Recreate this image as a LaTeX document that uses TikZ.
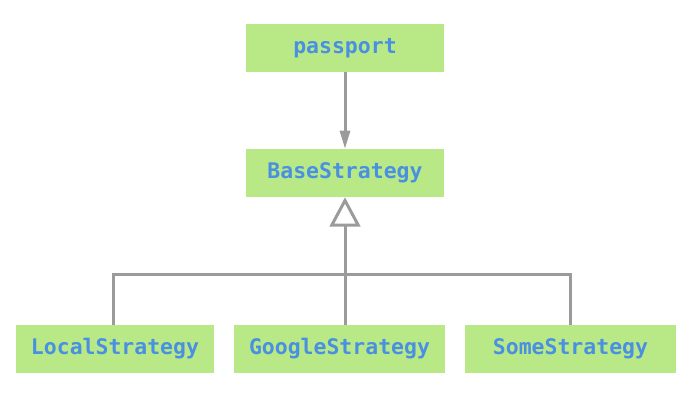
\documentclass[tikz,border=0pt]{standalone}
\usepackage{fontspec}
\setmonofont{DejaVu Sans Mono}
\usepackage{xcolor}
\usetikzlibrary{arrows.meta, positioning, calc}
\definecolor{boxgreen}{HTML}{B8E986}
\definecolor{textblue}{HTML}{4A90E2}
\definecolor{linegray}{HTML}{9B9B9B}
\tikzset{
    cls/.style={rectangle, fill=boxgreen, minimum height=36pt, inner sep=0pt,
        text=textblue, font=\ttfamily\bfseries\fontsize{16.1}{19}\selectfont},
    line/.style={draw=linegray, line width=2.25pt},
    arrow/.style={line, -{Triangle[length=13.5pt, width=7.5pt]}},
    inherit/.style={line, -{Triangle[open, fill=white, length=22pt, width=23pt]}}
}
\begin{document}
\begin{tikzpicture}[x=0.75pt, y=-0.75pt]
    \useasboundingbox (0,0) rectangle (690,401);
    \node[cls, minimum width=148.5pt] (passport) at (345,48) {passport};
    \node[cls, minimum width=148.5pt] (base) at (345,173) {BaseStrategy};
    \node[cls, minimum width=148.5pt] (local) at (115,349) {LocalStrategy};
    \node[cls, minimum width=158pt] (google) at (339.5,349) {GoogleStrategy};
    \node[cls, minimum width=158pt] (some) at (570.5,349) {SomeStrategy};
    \coordinate (join) at (345,274);

    \draw[arrow] (passport) -- (base);
    \draw[line] (local.north -| 113,0) |- (join) -| (some.north);
    \draw[line] (join) -- (join |- google.north);
    \draw[inherit] (join) -- (base.south);
\end{tikzpicture}
\end{document}
